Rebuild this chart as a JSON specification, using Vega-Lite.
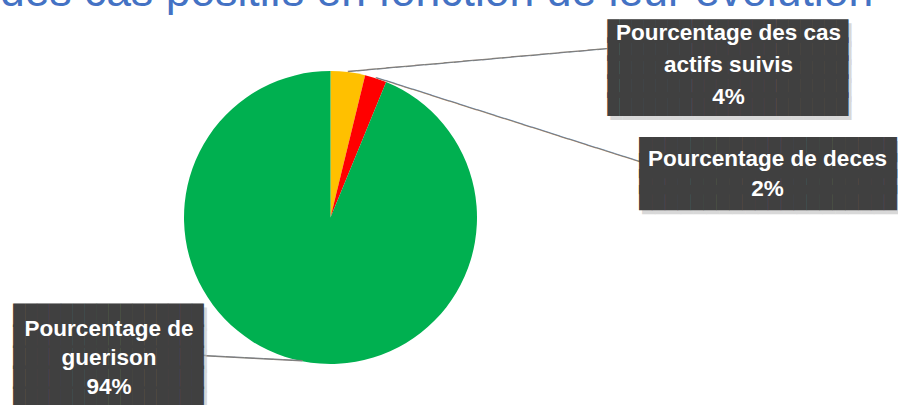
{
  "$schema": "https://vega.github.io/schema/vega-lite/v6.json",
  "width": 661,
  "height": 355,
  "autosize": {"type": "none"},
  "padding": {"left": 0, "top": 40, "right": 237, "bottom": 10},
  "background": "white",
  "config": {"view": {"stroke": null}},
  "title": {
    "text": "des cas positifs en fonction de leur évolution",
    "anchor": "start",
    "frame": "group",
    "font": "Liberation Sans",
    "fontSize": 44.5,
    "fontWeight": "normal",
    "color": "#4472C4",
    "baseline": "alphabetic",
    "offset": 0,
    "dy": 33.5
  },
  "data": {
    "values": [
      {"cat": "Pourcentage des cas actifs suivis", "value": 3.8, "idx": 1, "lines": ["Pourcentage des cas", "actifs suivis", "4%"]},
      {"cat": "Pourcentage de deces", "value": 2.4, "idx": 2, "lines": ["Pourcentage de deces", "2%"]},
      {"cat": "Pourcentage de guerison", "value": 93.8, "idx": 3, "lines": ["Pourcentage de", "guerison", "94%"]}
    ]
  },
  "encoding": {
    "theta": {"field": "value", "type": "quantitative", "stack": true},
    "order": {"field": "idx", "type": "quantitative"},
    "detail": {"field": "cat", "type": "nominal"}
  },
  "layer": [
    {
      "mark": {"type": "arc", "outerRadius": 146.5},
      "encoding": {
        "color": {
          "field": "cat",
          "type": "nominal",
          "scale": {
            "domain": ["Pourcentage des cas actifs suivis", "Pourcentage de deces", "Pourcentage de guerison"],
            "range": ["#FFC000", "#FF0000", "#00B050"]
          },
          "legend": null
        }
      }
    },
    {
      "mark": {"type": "text", "radius": 146.5, "font": "DejaVu Sans Mono", "fontSize": 16, "align": "left", "baseline": "middle", "angle": -5.06, "color": "#7F7F7F"},
      "encoding": {"text": {"condition": {"test": "datum.idx == 1", "value": "───────────────────────────"}, "value": ""}}
    },
    {
      "mark": {"type": "text", "radius": 146.5, "font": "DejaVu Sans Mono", "fontSize": 16, "align": "left", "baseline": "middle", "angle": 17.66, "color": "#7F7F7F"},
      "encoding": {"text": {"condition": {"test": "datum.idx == 2", "value": "─────────────────────────────"}, "value": ""}}
    },
    {
      "mark": {"type": "text", "radius": 146.5, "font": "DejaVu Sans Mono", "fontSize": 16, "align": "right", "baseline": "middle", "angle": 3.03, "color": "#7F7F7F"},
      "encoding": {"text": {"condition": {"test": "datum.idx == 3", "value": "───────────"}, "value": ""}}
    },
    {
      "mark": {"type": "text", "radius": 146.5, "font": "DejaVu Sans Mono", "fontSize": 20, "lineHeight": 18.43, "align": "center", "baseline": "alphabetic", "dx": 383.05, "dy": -30.48, "color": "#BFBFBF", "opacity": 0.6},
      "encoding": {"text": {"condition": {"test": "datum.idx == 1", "value": ["████████████████████", "████████████████████", "████████████████████", "████████████████████", "████████████████████"]}, "value": ""}}
    },
    {
      "mark": {"type": "text", "radius": 146.5, "font": "DejaVu Sans Mono", "fontSize": 21.4, "lineHeight": 16.03, "align": "center", "baseline": "alphabetic", "dx": 395.23, "dy": 82.69, "color": "#BFBFBF", "opacity": 0.6},
      "encoding": {"text": {"condition": {"test": "datum.idx == 2", "value": ["████████████████████", "████████████████████", "████████████████████", "████████████████████"]}, "value": ""}}
    },
    {
      "mark": {"type": "text", "radius": 146.5, "font": "DejaVu Sans Mono", "fontSize": 19.8, "lineHeight": 20.7, "align": "center", "baseline": "alphabetic", "dx": -190.64, "dy": -34.86, "color": "#BFBFBF", "opacity": 0.6},
      "encoding": {"text": {"condition": {"test": "datum.idx == 3", "value": ["████████████████", "████████████████", "████████████████", "████████████████", "████████████████"]}, "value": ""}}
    },
    {
      "mark": {"type": "text", "radius": 146.5, "font": "DejaVu Sans Mono", "fontSize": 20, "lineHeight": 18.43, "align": "center", "baseline": "alphabetic", "dx": 380.05, "dy": -34.48, "color": "#404040"},
      "encoding": {"text": {"condition": {"test": "datum.idx == 1", "value": ["████████████████████", "████████████████████", "████████████████████", "████████████████████", "████████████████████"]}, "value": ""}}
    },
    {
      "mark": {"type": "text", "radius": 146.5, "font": "DejaVu Sans Mono", "fontSize": 21.4, "lineHeight": 16.03, "align": "center", "baseline": "alphabetic", "dx": 392.23, "dy": 78.69, "color": "#404040"},
      "encoding": {"text": {"condition": {"test": "datum.idx == 2", "value": ["████████████████████", "████████████████████", "████████████████████", "████████████████████"]}, "value": ""}}
    },
    {
      "mark": {"type": "text", "radius": 146.5, "font": "DejaVu Sans Mono", "fontSize": 19.8, "lineHeight": 20.7, "align": "center", "baseline": "alphabetic", "dx": -193.64, "dy": -38.86, "color": "#404040"},
      "encoding": {"text": {"condition": {"test": "datum.idx == 3", "value": ["████████████████", "████████████████", "████████████████", "████████████████", "████████████████"]}, "value": ""}}
    },
    {
      "mark": {"type": "text", "radius": 146.5, "font": "Liberation Sans", "fontWeight": "bold", "fontSize": 22.5, "lineHeight": 32, "align": "center", "baseline": "alphabetic", "dx": 380.55, "dy": -32.04, "color": "white"},
      "encoding": {"text": {"condition": {"test": "datum.idx == 1", "field": "lines", "type": "nominal"}, "value": ""}}
    },
    {
      "mark": {"type": "text", "radius": 146.5, "font": "Liberation Sans", "fontWeight": "bold", "fontSize": 22.5, "lineHeight": 30, "align": "center", "baseline": "alphabetic", "dx": 391.73, "dy": 87.83, "color": "white"},
      "encoding": {"text": {"condition": {"test": "datum.idx == 2", "field": "lines", "type": "nominal"}, "value": ""}}
    },
    {
      "mark": {"type": "text", "radius": 146.5, "font": "Liberation Sans", "fontWeight": "bold", "fontSize": 22.5, "lineHeight": 29, "align": "center", "baseline": "alphabetic", "dx": -193.14, "dy": -25.23, "color": "white"},
      "encoding": {"text": {"condition": {"test": "datum.idx == 3", "field": "lines", "type": "nominal"}, "value": ""}}
    }
  ]
}
